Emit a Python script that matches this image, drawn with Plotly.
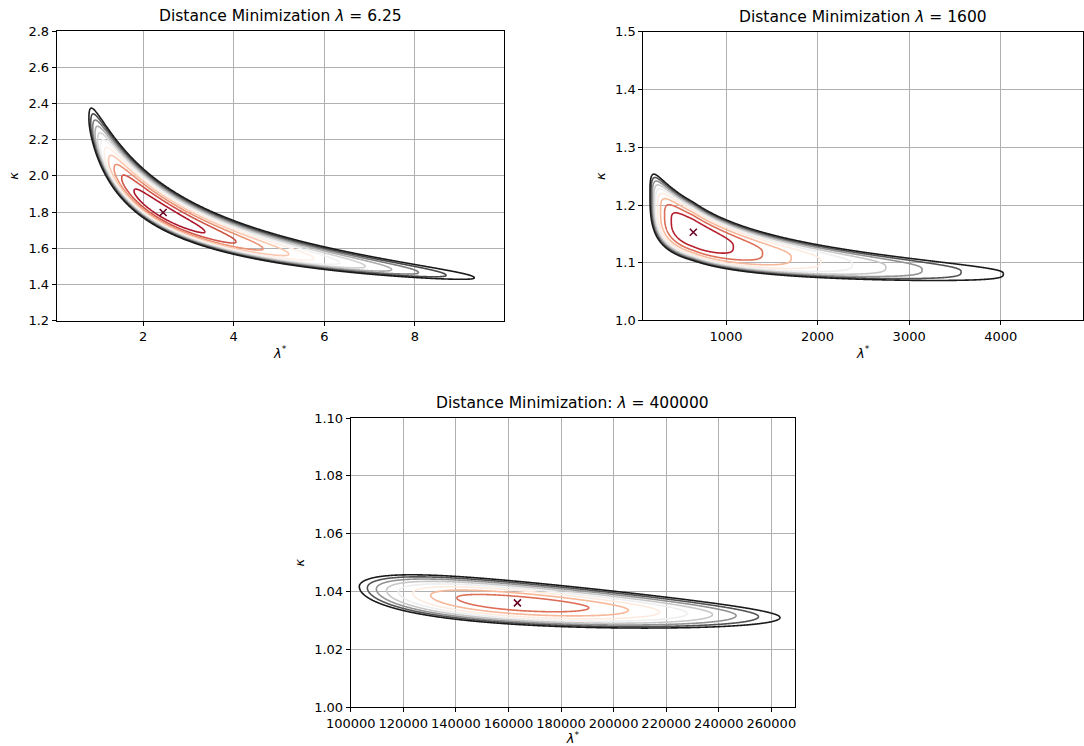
import numpy as np
import plotly.graph_objects as go
import plotly.colors as pc

W, H = 1084, 746

# ---------------------------------------------------------------- panel data
TITLES = ["Distance Minimization <i>λ</i> = 6.25",
          "Distance Minimization <i>λ</i> = 1600",
          "Distance Minimization: <i>λ</i> = 400000"]
X_LABEL = "<i>λ</i><sup>*</sup>"
Y_LABEL = "<i>κ</i>"

# minimiser of the distance surface (λ*, κ)
LAM_OPT = [2.44, 643.0, 163400.0]
KAPPA_OPT = [1.7975, 1.1529, 1.0361]

# valley floor follows κ - 1 ∝ λ*^(-power), left / right of the minimiser
VALLEY_POWER_LEFT = [0.45, 0.27, 0.315]
VALLEY_POWER_RIGHT = [0.45, 0.35, 0.315]
# asymmetry of the distance along the valley (left / right of the minimiser)
SKEW_LEFT = [0.5, 0.75, 0.5]
SKEW_RIGHT = [0.4, 0.5, 0.0]
# valley half-widths above / below the floor and steepness of the walls
WIDTH_UP = [0.148, 0.215, 0.393]
WIDTH_DOWN = [0.1065, 0.285, 0.486]
WALL_EXP = [2.3, 3.0, 2.0]

# contour levels: first level, spacing, number of levels
LEVEL_START = [-0.043, -0.0388, -0.0346]
LEVEL_STEP = [0.14145, 0.2861, 0.02914]
LEVEL_COUNT = [12, 10, 10]

# axis ranges and ticks
X_RANGE = [[0.088, 9.96], [97.0, 4898.0], [100000.0, 269000.0]]
Y_RANGE = [[1.2, 2.8], [1.0, 1.5], [1.0, 1.1]]
X_TICKS = [[2, 4, 6, 8], [1000, 2000, 3000, 4000],
           [100000, 120000, 140000, 160000, 180000, 200000, 220000, 240000, 260000]]
Y_TICKS = [[1.2, 1.4, 1.6, 1.8, 2.0, 2.2, 2.4, 2.6, 2.8],
           [1.0, 1.1, 1.2, 1.3, 1.4, 1.5],
           [1.00, 1.02, 1.04, 1.06, 1.08, 1.10]]
X_FMT = ["d", "d", "d"]
Y_FMT = [".1f", ".1f", ".2f"]

# region of the (λ*, κ) plane where the surface is evaluated
GRID_Y = [[1.25, 2.6], [1.02, 1.32], [1.015, 1.055]]

# axes boxes in pixels: left, right, top, bottom
BOXES = [(56.7, 503.5, 31.0, 320.7),
         (643.3, 1083.0, 31.9, 320.4),
         (350.7, 795.0, 418.0, 707.3)]

FONT = "DejaVu Sans"
TICK_SIZE = 13
TITLE_SIZE = 15.5
RDGY = pc.make_colorscale(pc.diverging.RdGy)
MARK_COLOR = pc.diverging.RdGy[0]


def along_valley(u, k_left, k_right):
    k = np.where(u < 0, k_left, k_right)
    ks = np.where(k == 0, 1.0, k)
    val = 2.0 * (np.exp(-ks * u) - 1.0 + ks * u) / ks ** 2
    return np.where(k == 0, u ** 2, val)


def distance_surface(i):
    x = np.linspace(X_RANGE[i][0], X_RANGE[i][1], 700)
    y = np.linspace(GRID_Y[i][0], GRID_Y[i][1], 360)
    X, Y = np.meshgrid(x, y)
    u = np.log(X / LAM_OPT[i])
    p = np.where(u < 0, VALLEY_POWER_LEFT[i], VALLEY_POWER_RIGHT[i])
    w = np.log((Y - 1.0) / (KAPPA_OPT[i] - 1.0)) + p * u
    s = np.where(w >= 0, w / WIDTH_UP[i], -w / WIDTH_DOWN[i])
    f = along_valley(u, SKEW_LEFT[i], SKEW_RIGHT[i]) + s ** WALL_EXP[i]
    return x, y, f.astype(np.float32)


fig = go.Figure()
layout = dict(width=W, height=H, margin=dict(l=0, r=0, t=0, b=0, autoexpand=False),
              paper_bgcolor="white", plot_bgcolor="white",
              showlegend=False, font=dict(family=FONT, size=TICK_SIZE, color="black"))
annotations = []

for i in range(3):
    xs = "" if i == 0 else str(i + 1)
    x, y, f = distance_surface(i)
    start = LEVEL_START[i]
    step = LEVEL_STEP[i]
    end = start + step * (LEVEL_COUNT[i] - 1)
    fig.add_trace(go.Contour(
        x=x, y=y, z=f, xaxis="x" + xs, yaxis="y" + xs,
        autocontour=False,
        contours=dict(start=start, end=end + 1e-9, size=step, coloring="lines"),
        colorscale=RDGY, showscale=False,
        line=dict(width=1.6, smoothing=1.0),
        hoverinfo="skip",
    ))
    fig.add_trace(go.Scatter(
        x=[LAM_OPT[i]], y=[KAPPA_OPT[i]], mode="markers",
        xaxis="x" + xs, yaxis="y" + xs,
        marker=dict(symbol="x-thin", size=7,
                    line=dict(width=1.5, color=MARK_COLOR)),
        hoverinfo="skip",
    ))

    l, r, t, b = BOXES[i]
    axis_common = dict(showline=True, linecolor="black", linewidth=1,
                       mirror=True, ticks="outside", ticklen=4, tickwidth=1,
                       tickcolor="black", showgrid=True, gridcolor="#b0b0b0",
                       gridwidth=0.8, zeroline=False, automargin=False,
                       tickfont=dict(family=FONT, size=TICK_SIZE, color="black"))
    layout["xaxis" + xs] = dict(axis_common, domain=[l / W, r / W],
                                range=X_RANGE[i], tickvals=X_TICKS[i],
                                tickformat=X_FMT[i], anchor="y" + xs,
                                title=dict(text=X_LABEL, standoff=5,
                                           font=dict(family=FONT, size=TICK_SIZE)))
    layout["yaxis" + xs] = dict(axis_common, domain=[1 - b / H, 1 - t / H],
                                range=Y_RANGE[i], tickvals=Y_TICKS[i],
                                tickformat=Y_FMT[i], anchor="x" + xs,
                                title=dict(text=Y_LABEL, standoff=6,
                                           font=dict(family=FONT, size=TICK_SIZE)))

    cx = (l + r) / 2
    annotations.append(dict(text=TITLES[i], x=cx / W, y=1 - (t - 15) / H,
                            xref="paper", yref="paper", showarrow=False,
                            xanchor="center", yanchor="middle",
                            font=dict(family=FONT, size=TITLE_SIZE, color="black")))

layout["annotations"] = annotations
fig.update_layout(**layout)
fig.write_html("out.html")
